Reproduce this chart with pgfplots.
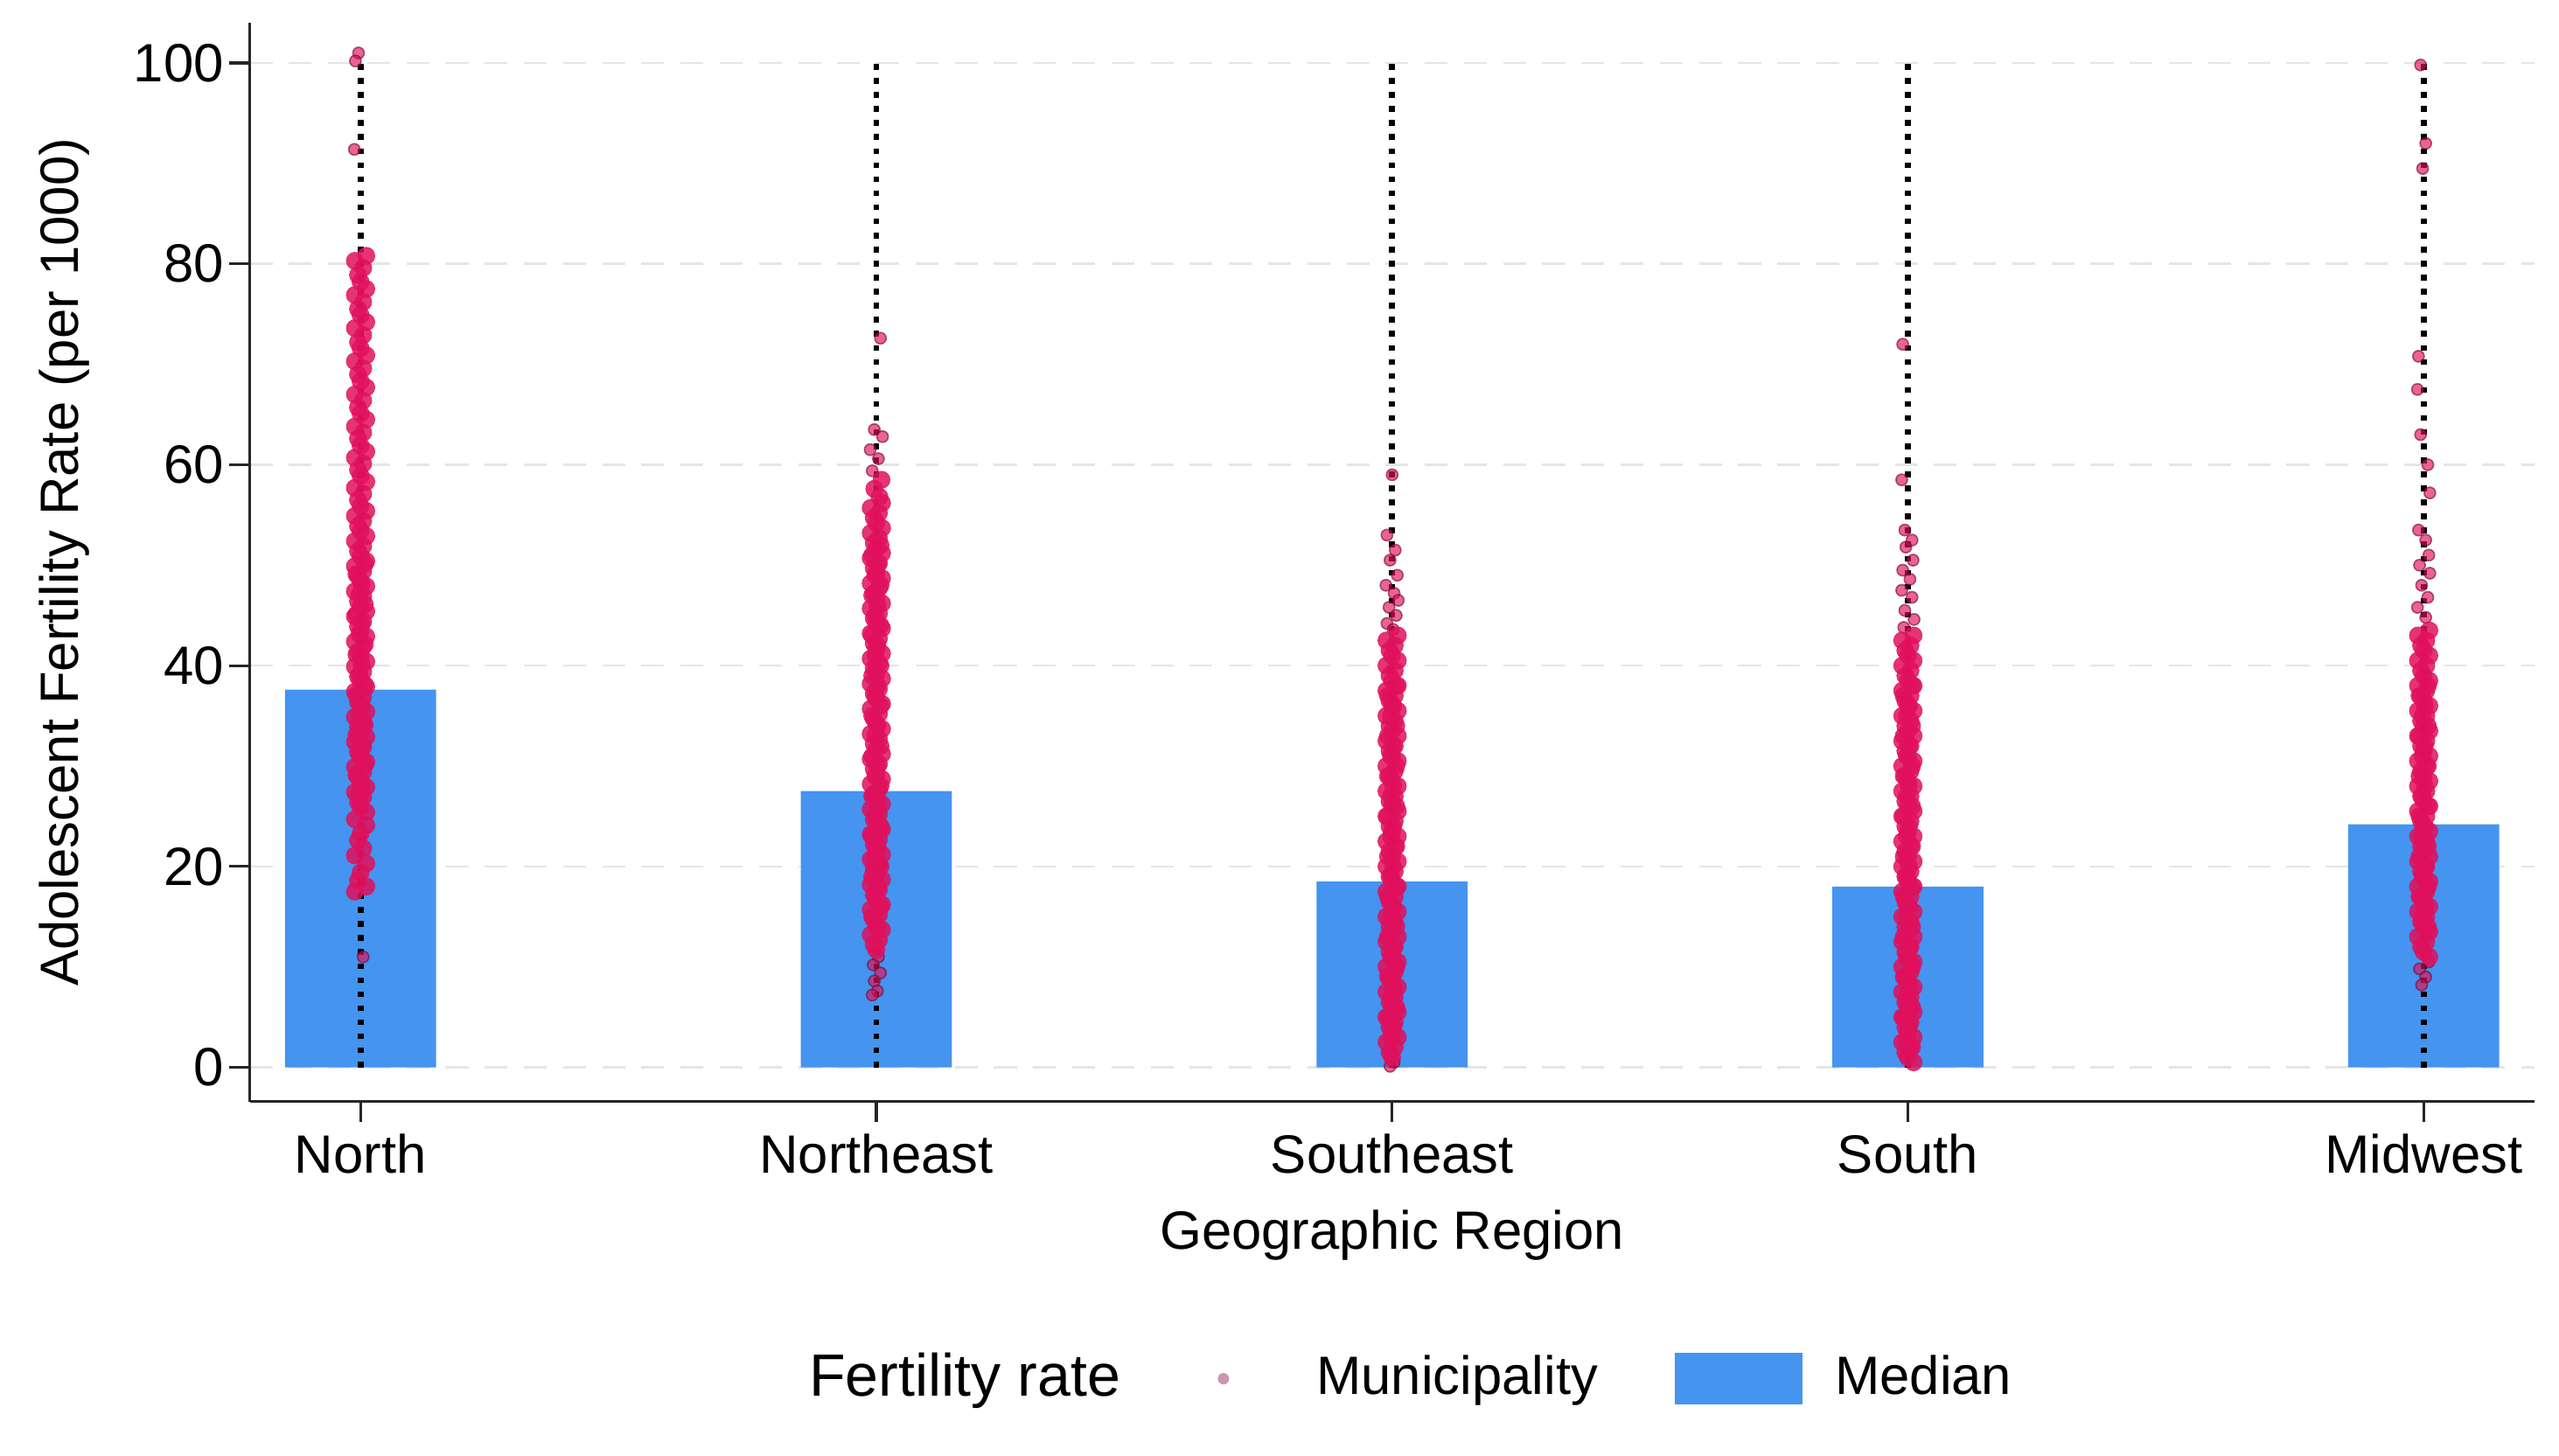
\documentclass[border=0pt]{standalone}
\usepackage{fontspec}
\setmainfont{Liberation Sans}
\usepackage{pgfplots}
\pgfplotsset{compat=1.18}
\definecolor{dotc}{RGB}{224,16,92}
\definecolor{barc}{RGB}{68,148,240}
\definecolor{legdot}{RGB}{205,150,175}
\pgfplotsset{
  dense/.style={only marks, mark=*, mark size=1.5pt, mark options={fill=dotc, draw=dotc, line width=0.1pt, fill opacity=0.85, draw opacity=0.85}, forget plot},
  sparse/.style={only marks, mark=*, mark size=1.0pt, mark options={fill=dotc, draw=dotc!50!black, line width=0.25pt, fill opacity=0.65, draw opacity=0.6}, forget plot},
  rng/.style={black, line width=1pt, dash pattern=on 1pt off 1.45pt, forget plot},
}
\begin{document}
\begin{tikzpicture}
\begin{axis}[
  name=ax,
  scale only axis,
  width=140mm, height=66.1mm,
  xmin=-0.215, xmax=4.215, ymin=-3.4, ymax=104,
  axis x line*=bottom, axis y line*=left,
  axis line style={black!85, line width=0.5pt},
  xtick={0,1,2,3,4},
  xticklabels={North,Northeast,Southeast,South,Midwest},
  ytick={0,20,40,60,80,100},
  tick align=outside,
  major tick length=1.25mm,
  tick style={black!85, line width=0.5pt},
  /pgf/number format/assume math mode=true,
  ticklabel style={font=\fontsize{9.4}{11}\selectfont},
  xticklabel style={yshift=0.5mm},
  yticklabel style={xshift=0.9mm},
  label style={font=\fontsize{9.4}{11}\selectfont},
  xlabel={Geographic Region},
  xlabel style={yshift=0.2mm},
  ylabel={Adolescent Fertility Rate (per 1000)},
  ylabel style={yshift=0.3mm},
  ymajorgrids,
  grid style={black!10, line width=0.4pt, dash pattern=on 1.4mm off 1mm},
  legend style={at={(0.508,-0.257)}, anchor=center, draw=none, fill=none,
    legend columns=3, font=\fontsize{9.4}{11}\selectfont,
    /tikz/every even column/.append style={column sep=4mm}},
  legend cell align=left,
]
% medians
\addplot[ybar, bar shift=0pt, bar width=0.293, fill=barc, draw=none, forget plot]
  coordinates {(0,37.6) (1,27.5) (2,18.5) (3,18.0) (4,24.2)};
% dotted range lines
\addplot[rng] coordinates {(0,0) (0,100)};
\addplot[rng] coordinates {(1,0) (1,100)};
\addplot[rng] coordinates {(2,0) (2,100)};
\addplot[rng] coordinates {(3,0) (3,100)};
\addplot[rng] coordinates {(4,0) (4,100)};
% North
\addplot[sparse] coordinates {(-0.004,101) (-0.010,100.2) (-0.012,91.4) (0.005,11.0)};
\addplot[dense] coordinates {
(0.011,80.8)(-0.011,80.3)(0.005,79.6)(-0.005,78.9)(0,78.2)
(0.011,77.5)(-0.011,76.9)(0.005,76.2)(-0.005,75.5)(0,74.9)
(0.011,74.2)(-0.011,73.6)(0.005,72.9)(-0.005,72.2)(0,71.6)
(0.011,70.9)(-0.011,70.3)(0.005,69.6)(-0.005,69.0)(0,68.3)
(0.011,67.7)(-0.011,67.0)(0.005,66.4)(-0.005,65.7)(0,65.1)
(0.011,64.5)(-0.011,63.8)(0.005,63.2)(-0.005,62.6)(0,61.9)
(0.011,61.3)(-0.011,60.7)(0.005,60.1)(-0.005,59.5)(0,58.9)
(0.011,58.3)(-0.011,57.7)(0.005,57.1)(-0.005,56.5)(0,55.9)
(0.011,55.4)(-0.011,54.9)(0.005,54.4)(-0.005,53.9)(0,53.4)
(0.011,52.9)(-0.011,52.4)(0.005,51.9)(-0.005,51.4)(0,50.9)
(0.011,50.4)(-0.011,49.9)(0.005,49.4)(-0.005,48.9)(0,48.4)
(0.011,47.9)(-0.011,47.4)(0.005,46.9)(-0.005,46.4)(0,45.9)
(0.011,45.4)(-0.011,44.9)(0.005,44.4)(-0.005,43.9)(0,43.4)
(0.011,42.9)(-0.011,42.4)(0.005,41.9)(-0.005,41.4)(0,40.9)
(0.011,40.4)(-0.011,39.9)(0.005,39.4)(-0.005,38.9)(0,38.4)
(0.011,37.9)(-0.011,37.4)(0.005,36.9)(-0.005,36.4)(0,35.9)
(0.011,35.4)(-0.011,34.9)(0.005,34.4)(-0.005,33.9)(0,33.4)
(0.011,32.9)(-0.011,32.4)(0.005,31.9)(-0.005,31.4)(0,30.9)
(0.011,30.4)(-0.011,29.9)(0.005,29.4)(-0.005,28.9)(0,28.4)
(0.011,27.9)(-0.011,27.4)(0.005,26.9)(-0.005,26.4)(0,25.9)
(0.011,25.4)
(0.008,50.1)(-0.008,49.1)(0.002,48.1)(-0.002,47.1)(0.008,46.1)(-0.008,45.1)(0.002,44.1)(-0.002,43.1)
(0.008,42.1)(-0.008,41.1)(0.002,40.1)(-0.002,39.1)(0.008,38.1)(-0.008,37.1)(0.002,36.1)(-0.002,35.1)
(0.008,34.1)(-0.008,33.1)(0.002,32.1)(-0.002,31.1)(0.008,30.1)(-0.008,29.1)(0.002,28.1)(-0.002,27.1)
(-0.011,24.7)(0.011,24.1)(0,23.3)(-0.005,22.6)(0.005,21.8)(-0.011,21.1)(0.011,20.3)(0,19.4)
(-0.005,18.6)(0.011,18.0)(-0.011,17.5)
};
% Northeast
\addplot[sparse] coordinates {(1.008,72.6)(0.996,63.5)(1.012,62.8)(0.988,61.5)(1.004,60.6)(0.992,59.4)
(1.004,11.0)(0.994,10.2)(1.008,9.4)(0.996,8.6)(1.002,7.6)(0.992,7.2)};
\addplot[dense] coordinates {
(1.010,58.5)(0.996,57.6)(1.006,56.8)
(1.011,56.2)(0.989,55.7)(1.005,55.2)(0.995,54.7)(1,54.2)
(1.011,53.7)(0.989,53.2)(1.005,52.7)(0.995,52.2)(1,51.7)
(1.011,51.2)(0.989,50.7)(1.005,50.2)(0.995,49.7)(1,49.2)
(1.011,48.7)(0.989,48.2)(1.005,47.7)(0.995,47.2)(1,46.7)
(1.011,46.2)(0.989,45.7)(1.005,45.2)(0.995,44.7)(1,44.2)
(1.011,43.7)(0.989,43.2)(1.005,42.7)(0.995,42.2)(1,41.7)
(1.011,41.2)(0.989,40.7)(1.005,40.2)(0.995,39.7)(1,39.2)
(1.011,38.7)(0.989,38.2)(1.005,37.7)(0.995,37.2)(1,36.7)
(1.011,36.2)(0.989,35.7)(1.005,35.2)(0.995,34.7)(1,34.2)
(1.011,33.7)(0.989,33.2)(1.005,32.7)(0.995,32.2)(1,31.7)
(1.011,31.2)(0.989,30.7)(1.005,30.2)(0.995,29.7)(1,29.2)
(1.011,28.7)(0.989,28.2)(1.005,27.7)(0.995,27.2)(1,26.7)
(1.011,26.2)(0.989,25.7)(1.005,25.2)(0.995,24.7)(1,24.2)
(1.011,23.7)(0.989,23.2)(1.005,22.7)(0.995,22.2)(1,21.7)
(1.011,21.2)(0.989,20.7)(1.005,20.2)(0.995,19.7)(1,19.2)
(1.011,18.7)(0.989,18.2)(1.005,17.7)(0.995,17.2)(1,16.7)
(1.011,16.2)(0.989,15.7)(1.005,15.2)(0.995,14.7)(1,14.2)
(1.011,13.7)(0.989,13.2)(1.005,12.7)(0.995,12.2)(1,11.7)
(1.008,52.0)(0.992,51.0)(1.002,50.0)(0.998,49.0)(1.008,48.0)(0.992,47.0)(1.002,46.0)(0.998,45.0)
(1.008,44.0)(0.992,43.0)(1.002,42.0)(0.998,41.0)(1.008,40.0)(0.992,39.0)(1.002,38.0)(0.998,37.0)
(1.008,36.0)(0.992,35.0)(1.002,34.0)(0.998,33.0)(1.008,32.0)(0.992,31.0)(1.002,30.0)(0.998,29.0)
(1.008,28.0)(0.992,27.0)(1.002,26.0)(0.998,25.0)(1.008,24.0)(0.992,23.0)(1.002,22.0)(0.998,21.0)
(1.008,20.0)(0.992,19.0)(1.002,18.0)(0.998,17.0)(1.008,16.0)(0.992,15.0)(1.002,14.0)
};
% Southeast
\addplot[sparse] coordinates {(2.000,59.0)(1.990,53.0)(2.006,51.5)(1.996,50.5)(2.010,49.0)(1.988,48.0)(2.004,47.2)(2.012,46.5)(1.994,45.8)(2.008,45.0)(1.990,44.2)(2.002,43.6)(2.004,0.5)(1.996,0.1)};
\addplot[dense] coordinates {
(2.011,43.0)(1.989,42.5)(2.005,42.0)(1.995,41.5)(2,41.0)
(2.011,40.5)(1.989,40.0)(2.005,39.5)(1.995,39.0)(2,38.5)
(2.011,38.0)(1.989,37.5)(2.005,37.0)(1.995,36.5)(2,36.0)
(2.011,35.5)(1.989,35.0)(2.005,34.5)(1.995,34.0)(2,33.5)
(2.011,33.0)(1.989,32.5)(2.005,32.0)(1.995,31.5)(2,31.0)
(2.011,30.5)(1.989,30.0)(2.005,29.5)(1.995,29.0)(2,28.5)
(2.011,28.0)(1.989,27.5)(2.005,27.0)(1.995,26.5)(2,26.0)
(2.011,25.5)(1.989,25.0)(2.005,24.5)(1.995,24.0)(2,23.5)
(2.011,23.0)(1.989,22.5)(2.005,22.0)(1.995,21.5)(2,21.0)
(2.011,20.5)(1.989,20.0)(2.005,19.5)(1.995,19.0)(2,18.5)
(2.011,18.0)(1.989,17.5)(2.005,17.0)(1.995,16.5)(2,16.0)
(2.011,15.5)(1.989,15.0)(2.005,14.5)(1.995,14.0)(2,13.5)
(2.011,13.0)(1.989,12.5)(2.005,12.0)(1.995,11.5)(2,11.0)
(2.011,10.5)(1.989,10.0)(2.005,9.5)(1.995,9.0)(2,8.5)
(2.011,8.0)(1.989,7.5)(2.005,7.0)(1.995,6.5)(2,6.0)
(2.011,5.5)(1.989,5.0)(2.005,4.5)(1.995,4.0)(2,3.5)
(2.011,3.0)(1.989,2.5)(2.005,2.0)(1.995,1.5)(2,1.0)
(2.008,38.0)(1.992,37.0)(2.002,36.0)(1.998,35.0)(2.008,34.0)(1.992,33.0)(2.002,32.0)(1.998,31.0)
(2.008,30.0)(1.992,29.0)(2.002,28.0)(1.998,27.0)(2.008,26.0)(1.992,25.0)(2.002,24.0)(1.998,23.0)
(2.008,22.0)(1.992,21.0)(2.002,20.0)(1.998,19.0)(2.008,18.0)(1.992,17.0)(2.002,16.0)(1.998,15.0)
(2.008,14.0)(1.992,13.0)(2.002,12.0)(1.998,11.0)(2.008,10.0)(1.992,9.0)(2.002,8.0)(1.998,7.0)
(2.008,6.0)(1.992,5.0)(2.002,4.0)(1.998,3.0)
};
% South
\addplot[sparse] coordinates {(2.990,72.0)(2.988,58.5)(2.994,53.5)(3.008,52.5)(2.996,51.8)(3.010,50.5)(2.990,49.5)(3.004,48.6)(2.988,47.5)(3.008,46.8)(2.994,45.5)(3.012,44.6)(2.992,43.8)};
\addplot[dense] coordinates {
(3.011,43.0)(2.989,42.5)(3.005,42.0)(2.995,41.5)(3,41.0)
(3.011,40.5)(2.989,40.0)(3.005,39.5)(2.995,39.0)(3,38.5)
(3.011,38.0)(2.989,37.5)(3.005,37.0)(2.995,36.5)(3,36.0)
(3.011,35.5)(2.989,35.0)(3.005,34.5)(2.995,34.0)(3,33.5)
(3.011,33.0)(2.989,32.5)(3.005,32.0)(2.995,31.5)(3,31.0)
(3.011,30.5)(2.989,30.0)(3.005,29.5)(2.995,29.0)(3,28.5)
(3.011,28.0)(2.989,27.5)(3.005,27.0)(2.995,26.5)(3,26.0)
(3.011,25.5)(2.989,25.0)(3.005,24.5)(2.995,24.0)(3,23.5)
(3.011,23.0)(2.989,22.5)(3.005,22.0)(2.995,21.5)(3,21.0)
(3.011,20.5)(2.989,20.0)(3.005,19.5)(2.995,19.0)(3,18.5)
(3.011,18.0)(2.989,17.5)(3.005,17.0)(2.995,16.5)(3,16.0)
(3.011,15.5)(2.989,15.0)(3.005,14.5)(2.995,14.0)(3,13.5)
(3.011,13.0)(2.989,12.5)(3.005,12.0)(2.995,11.5)(3,11.0)
(3.011,10.5)(2.989,10.0)(3.005,9.5)(2.995,9.0)(3,8.5)
(3.011,8.0)(2.989,7.5)(3.005,7.0)(2.995,6.5)(3,6.0)
(3.011,5.5)(2.989,5.0)(3.005,4.5)(2.995,4.0)(3,3.5)
(3.011,3.0)(2.989,2.5)(3.005,2.0)(2.995,1.5)(3,1.0)(3.011,0.5)
(3.008,38.0)(2.992,37.0)(3.002,36.0)(2.998,35.0)(3.008,34.0)(2.992,33.0)(3.002,32.0)(2.998,31.0)
(3.008,30.0)(2.992,29.0)(3.002,28.0)(2.998,27.0)(3.008,26.0)(2.992,25.0)(3.002,24.0)(2.998,23.0)
(3.008,22.0)(2.992,21.0)(3.002,20.0)(2.998,19.0)(3.008,18.0)(2.992,17.0)(3.002,16.0)(2.998,15.0)
(3.008,14.0)(2.992,13.0)(3.002,12.0)(2.998,11.0)(3.008,10.0)(2.992,9.0)(3.002,8.0)(2.998,7.0)
(3.008,6.0)(2.992,5.0)(3.002,4.0)(2.998,3.0)(3.008,2.0)
};
% Midwest
\addplot[sparse] coordinates {(3.994,99.8)(4.004,92.0)(3.998,89.5)(3.990,70.8)(3.988,67.5)(3.994,63.0)(4.008,60.0)(4.012,57.2)(3.990,53.5)(4.004,52.5)(4.010,51.0)(3.992,50.0)(4.012,49.2)(3.996,48.0)(4.008,46.8)(3.988,45.8)(4.004,44.8)
(4.010,10.5)(3.992,9.8)(4.004,9.0)(3.996,8.2)};
\addplot[dense] coordinates {
(4.011,43.5)(3.989,43.0)(4.005,42.5)(3.995,42.0)(4,41.5)
(4.011,41.0)(3.989,40.5)(4.005,40.0)(3.995,39.5)(4,39.0)
(4.011,38.5)(3.989,38.0)(4.005,37.5)(3.995,37.0)(4,36.5)
(4.011,36.0)(3.989,35.5)(4.005,35.0)(3.995,34.5)(4,34.0)
(4.011,33.5)(3.989,33.0)(4.005,32.5)(3.995,32.0)(4,31.5)
(4.011,31.0)(3.989,30.5)(4.005,30.0)(3.995,29.5)(4,29.0)
(4.011,28.5)(3.989,28.0)(4.005,27.5)(3.995,27.0)(4,26.5)
(4.011,26.0)(3.989,25.5)(4.005,25.0)(3.995,24.5)(4,24.0)
(4.011,23.5)(3.989,23.0)(4.005,22.5)(3.995,22.0)(4,21.5)
(4.011,21.0)(3.989,20.5)(4.005,20.0)(3.995,19.5)(4,19.0)
(4.011,18.5)(3.989,18.0)(4.005,17.5)(3.995,17.0)(4,16.5)
(4.011,16.0)(3.989,15.5)(4.005,15.0)(3.995,14.5)(4,14.0)
(4.011,13.5)(3.989,13.0)(4.005,12.5)(3.995,12.0)(4,11.5)(4.011,11.0)
(4.008,38.0)(3.992,37.0)(4.002,36.0)(3.998,35.0)(4.008,34.0)(3.992,33.0)(4.002,32.0)(3.998,31.0)
(4.008,30.0)(3.992,29.0)(4.002,28.0)(3.998,27.0)(4.008,26.0)(3.992,25.0)(4.002,24.0)(3.998,23.0)
(4.008,22.0)(3.992,21.0)(4.002,20.0)(3.998,19.0)(4.008,18.0)(3.992,17.0)(4.002,16.0)(3.998,15.0)(4.008,14.0)
};
% legend
\addlegendimage{empty legend}
\addlegendentry{\fontsize{10.4}{12}\selectfont Fertility rate}
\addlegendimage{draw=none, legend image code/.code={\path[draw=none,fill=none] (0,0) rectangle (6.6mm,0); \fill[legdot] (1.6mm,0) circle (0.35mm);}}
\addlegendentry{Municipality}
\addlegendimage{draw=none, legend image code/.code={\fill[barc] (0,-1.6mm) rectangle (7.8mm,1.6mm); \path[draw=none,fill=none] (0,0) -- (9.1mm,0);}}
\addlegendentry{Median}
\end{axis}
\path (ax.south west) ++(-15.3mm,-21.7mm);
\path (ax.north east) ++(1.5mm,1.4mm);
\end{tikzpicture}
\end{document}
